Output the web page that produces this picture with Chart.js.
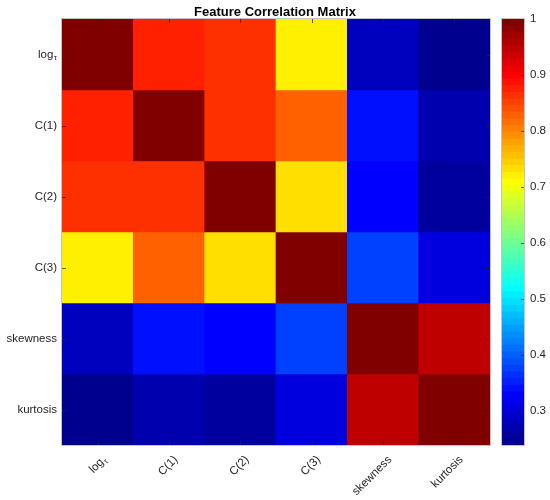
<!DOCTYPE html>
<html>
<head>
<meta charset="utf-8">
<script src="https://cdn.jsdelivr.net/npm/chart.js@4.4.0/dist/chart.umd.min.js"></script>
<style>
  html, body { margin: 0; padding: 0; background: #fff; }
  #wrap { position: relative; width: 550px; height: 500px; }
  #heat { position: absolute; left: 0; top: 0; width: 550px; height: 500px; }
  #bar { position: absolute; left: 480px; top: 0; width: 70px; height: 500px; }
</style>
</head>
<body>
<div id="wrap">
  <div id="heat"><canvas id="heatCanvas"></canvas></div>
  <div id="bar"><canvas id="barCanvas"></canvas></div>
</div>
<script>
var features = ['log\u03c4', 'C(1)', 'C(2)', 'C(3)', 'skewness', 'kurtosis'];

// correlation rows, top to bottom
var rowLogTau   = [1.000, 0.880, 0.860, 0.720, 0.280, 0.239];
var rowC1       = [0.880, 1.000, 0.860, 0.830, 0.340, 0.270];
var rowC2       = [0.860, 0.860, 1.000, 0.730, 0.330, 0.260];
var rowC3       = [0.720, 0.830, 0.730, 1.000, 0.380, 0.300];
var rowSkewness = [0.280, 0.340, 0.330, 0.380, 1.000, 0.950];
var rowKurtosis = [0.239, 0.270, 0.260, 0.300, 0.950, 1.000];
var corr = [rowLogTau, rowC1, rowC2, rowC3, rowSkewness, rowKurtosis];

var colorbarTicks = [0.3, 0.4, 0.5, 0.6, 0.7, 0.8, 0.9, 1.0];
var cmin = 0.239, cmax = 1;

var fontFamily = '"Liberation Sans", Arial, Helvetica, sans-serif';
var tickColor = '#262626';
var tickSize = 11.5;
var xPad = 8, xShift = 7;

// MATLAB jet(64), i = 1..64
function jet(i) {
  var r = i <= 24 ? 0 : i <= 40 ? (i - 24) / 16 : i <= 55 ? 1 : (72 - i) / 16;
  var g = i <= 8 ? 0 : i <= 24 ? (i - 8) / 16 : i <= 39 ? 1 : i <= 55 ? (56 - i) / 16 : 0;
  var b = i <= 8 ? (i + 8) / 16 : i <= 23 ? 1 : i <= 39 ? (40 - i) / 16 : 0;
  return 'rgb(' + Math.round(r * 255) + ',' + Math.round(g * 255) + ',' + Math.round(b * 255) + ')';
}
function colorFor(v) {
  var i = Math.floor((v - cmin) / (cmax - cmin) * 64) + 1;
  return jet(Math.max(1, Math.min(64, i)));
}

// draws "log" with subscript tau, right end at the origin
function drawLogTau(ctx) {
  ctx.textAlign = 'left';
  ctx.textBaseline = 'middle';
  ctx.font = (tickSize * 0.7) + 'px ' + fontFamily;
  var wt = ctx.measureText('\u03c4').width;
  ctx.fillText('\u03c4', -wt, 3.5);
  ctx.font = tickSize + 'px ' + fontFamily;
  var wl = ctx.measureText('log').width;
  ctx.fillText('log', -wt - wl - 0.5, 0);
}

var subLabel = {
  id: 'subLabel',
  afterDraw: function (chart) {
    var ctx = chart.ctx, xs = chart.scales.x, ys = chart.scales.y;
    ctx.save();
    ctx.fillStyle = tickColor;
    ctx.translate(ys.right - 5, ys.getPixelForValue(0.5));
    drawLogTau(ctx);
    ctx.restore();

    var rot = -Math.PI / 4, lh = tickSize * 1.2;
    ctx.save();
    ctx.fillStyle = tickColor;
    ctx.translate(xs.getPixelForValue(0) + xShift + lh / 2 * Math.sin(rot), xs.top + xPad);
    ctx.rotate(rot);
    ctx.translate(0, lh / 2);
    drawLogTau(ctx);
    ctx.restore();
  }
};

function drawFrame(chart) {
  var a = chart.chartArea, ctx = chart.ctx;
  ctx.save();
  ctx.strokeStyle = '#c4c4c4';
  ctx.lineWidth = 1;
  ctx.strokeRect(Math.round(a.left) - 0.5, Math.round(a.top) - 0.5,
                 Math.round(a.right - a.left) + 1, Math.round(a.bottom - a.top) + 1);
  ctx.restore();
}

// inward tick marks like the original figure
function tickLine(ctx, x1, y1, x2, y2) {
  ctx.beginPath();
  ctx.moveTo(x1, y1);
  ctx.lineTo(x2, y2);
  ctx.stroke();
}

var heatFrame = {
  id: 'heatFrame',
  afterDatasetsDraw: function (chart) {
    drawFrame(chart);
    var a = chart.chartArea, ctx = chart.ctx, xs = chart.scales.x, ys = chart.scales.y;
    ctx.save();
    ctx.strokeStyle = 'rgba(38,38,38,0.75)';
    ctx.lineWidth = 1;
    features.forEach(function (f, i) {
      var x = Math.round(xs.getPixelForValue(i)) + 0.5;
      tickLine(ctx, x, a.top, x, a.top + 4);
      tickLine(ctx, x, a.bottom, x, a.bottom - 4);
      var y = Math.round(ys.getPixelForValue(i + 0.5)) + 0.5;
      tickLine(ctx, a.left, y, a.left + 4, y);
      tickLine(ctx, a.right, y, a.right - 4, y);
    });
    ctx.restore();
  }
};

var barFrame = {
  id: 'barFrame',
  afterDatasetsDraw: function (chart) {
    drawFrame(chart);
    var a = chart.chartArea, ctx = chart.ctx, ys = chart.scales.y;
    ctx.save();
    ctx.strokeStyle = 'rgba(38,38,38,0.75)';
    ctx.lineWidth = 1;
    colorbarTicks.forEach(function (v) {
      var y = Math.round(ys.getPixelForValue(v)) + 0.5;
      tickLine(ctx, a.right, y, a.right - 3, y);
    });
    ctx.restore();
  }
};

var heatDatasets = corr.map(function (row, r) {
  return {
    label: features[r],
    data: row.map(function () { return [r, r + 1]; }),
    backgroundColor: row.map(colorFor),
    grouped: false,
    barPercentage: 1,
    categoryPercentage: 1,
    borderWidth: 0,
    yAxisID: 'y'
  };
});

new Chart(document.getElementById('heatCanvas'), {
  type: 'bar',
  data: { labels: features, datasets: heatDatasets },
  options: {
    responsive: true,
    maintainAspectRatio: false,
    animation: false,
    layout: { padding: 0 },
    plugins: {
      legend: { display: false },
      tooltip: { enabled: false },
      title: {
        display: true,
        text: 'Feature Correlation Matrix',
        color: '#000',
        font: { family: fontFamily, size: 13, weight: 'bold', lineHeight: 14 / 13 },
        padding: { top: 5, bottom: 0 }
      }
    },
    scales: {
      x: {
        grid: { display: false, drawTicks: false },
        border: { display: false },
        ticks: {
          autoSkip: false,
          minRotation: 45,
          maxRotation: 45,
          padding: xPad,
          labelOffset: xShift,
          color: tickColor,
          font: { family: fontFamily, size: tickSize },
          callback: function (v, i) { return i === 0 ? '' : features[i]; }
        },
        afterFit: function (s) { s.height = 55; }
      },
      y: {
        min: 0,
        max: 6,
        reverse: true,
        grid: { display: false, drawTicks: false },
        border: { display: false },
        afterBuildTicks: function (s) {
          s.ticks = features.map(function (f, i) { return { value: i + 0.5 }; });
        },
        ticks: {
          padding: 5,
          color: tickColor,
          font: { family: fontFamily, size: tickSize },
          callback: function (v) { var i = Math.floor(v); return i === 0 ? '' : features[i]; }
        },
        afterFit: function (s) { s.width = 62; }
      },
      // empty right-hand space where the colorbar sits
      yRight: {
        position: 'right',
        grid: { display: false, drawTicks: false },
        border: { display: false },
        ticks: { display: false },
        afterFit: function (s) { s.width = 60; }
      }
    }
  },
  plugins: [subLabel, heatFrame]
});

// colorbar: 64 levels, each bar from cmin up to its level top; lower ones drawn on top
var levelDatasets = [];
for (var k = 0; k < 64; k++) {
  levelDatasets.push({
    data: [[cmin, cmin + (k + 1) * (cmax - cmin) / 64]],
    backgroundColor: jet(k + 1),
    grouped: false,
    barPercentage: 1,
    categoryPercentage: 1,
    borderWidth: 0
  });
}

new Chart(document.getElementById('barCanvas'), {
  type: 'bar',
  data: { labels: [''], datasets: levelDatasets },
  options: {
    responsive: true,
    maintainAspectRatio: false,
    animation: false,
    layout: { padding: { left: 22, right: 0, top: 19, bottom: 55 } },
    plugins: { legend: { display: false }, tooltip: { enabled: false } },
    scales: {
      x: { display: false },
      y: {
        position: 'right',
        min: cmin,
        max: cmax,
        grid: { display: false, drawTicks: false },
        border: { display: false },
        afterBuildTicks: function (s) {
          s.ticks = colorbarTicks.map(function (v) { return { value: v }; });
        },
        ticks: {
          padding: 6,
          color: tickColor,
          font: { family: fontFamily, size: tickSize },
          callback: function (v) { return String(+v.toFixed(1)); }
        },
        afterFit: function (s) { s.width = 26; }
      }
    }
  },
  plugins: [barFrame]
});
</script>
</body>
</html>
